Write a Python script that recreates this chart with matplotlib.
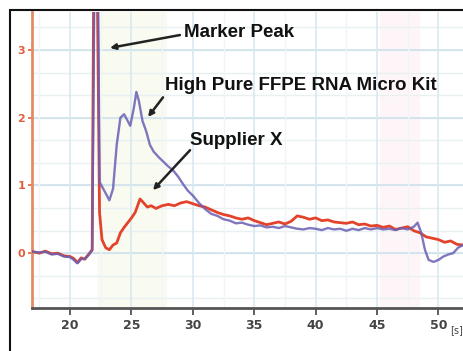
import matplotlib.pyplot as plt
from matplotlib.patches import Rectangle

# Electropherogram traces (x in seconds, y in FU)
x_blue = [17.0, 17.5, 18.0, 18.5, 19.0, 19.5, 20.0, 20.3, 20.6, 20.9, 21.2, 21.5, 21.8,
          21.98, 22.28, 22.4, 22.7, 23.0, 23.2, 23.5, 23.8, 24.1, 24.4, 24.7, 24.9, 25.2,
          25.4, 25.6, 25.9, 26.2, 26.5, 26.8, 27.2, 27.6, 28.0, 28.4, 28.8, 29.2, 29.6,
          30.0, 30.5, 31.0, 31.5, 32.0, 32.5, 33.0, 33.5, 34.0, 34.5, 35.0, 35.5, 36.0,
          36.5, 37.0, 37.5, 38.0, 38.5, 39.0, 39.5, 40.0, 40.5, 41.0, 41.5, 42.0, 42.5,
          43.0, 43.5, 44.0, 44.5, 45.0, 45.5, 46.0, 46.5, 47.0, 47.5, 48.0, 48.3, 48.6,
          48.9, 49.2, 49.6, 50.0, 50.4, 50.8, 51.2, 51.6, 52.0]
y_blue = [0.02, 0.01, 0.02, -0.02, -0.01, -0.05, -0.06, -0.10, -0.15, -0.09, -0.08, -0.03, 0.04,
          3.9, 3.9, 1.05, 0.95, 0.85, 0.78, 0.95, 1.60, 2.00, 2.05, 1.95, 1.88, 2.15,
          2.38, 2.25, 1.95, 1.80, 1.60, 1.50, 1.42, 1.35, 1.28, 1.22, 1.13, 1.02, 0.92,
          0.85, 0.74, 0.65, 0.58, 0.55, 0.50, 0.48, 0.44, 0.45, 0.42, 0.40, 0.41, 0.38,
          0.39, 0.37, 0.40, 0.38, 0.36, 0.35, 0.37, 0.36, 0.34, 0.37, 0.35, 0.36, 0.33,
          0.36, 0.34, 0.37, 0.35, 0.37, 0.35, 0.36, 0.34, 0.37, 0.35, 0.39, 0.45, 0.30,
          0.05, -0.10, -0.13, -0.10, -0.05, -0.02, 0.00, 0.08, 0.12]

x_red = [17.0, 17.5, 18.0, 18.5, 19.0, 19.5, 20.0, 20.3, 20.6, 20.9, 21.2, 21.5, 21.8,
         21.92, 22.22, 22.4, 22.6, 22.9, 23.2, 23.5, 23.8, 24.1, 24.4, 24.7, 25.0, 25.3,
         25.7, 26.0, 26.3, 26.6, 27.0, 27.5, 28.0, 28.5, 29.0, 29.5, 30.0, 30.5, 31.0,
         31.5, 32.0, 32.5, 33.0, 33.5, 34.0, 34.5, 35.0, 35.5, 36.0, 36.5, 37.0, 37.5,
         38.0, 38.5, 39.0, 39.5, 40.0, 40.5, 41.0, 41.5, 42.0, 42.5, 43.0, 43.5, 44.0,
         44.5, 45.0, 45.5, 46.0, 46.5, 47.0, 47.5, 48.0, 48.5, 49.0, 49.5, 50.0, 50.5,
         51.0, 51.5, 52.0]
y_red = [0.02, 0.00, 0.03, -0.01, 0.00, -0.04, -0.05, -0.08, -0.14, -0.07, -0.09, -0.02, 0.05,
         3.9, 3.9, 0.60, 0.20, 0.08, 0.05, 0.12, 0.15, 0.30, 0.38, 0.45, 0.52, 0.60,
         0.80, 0.74, 0.68, 0.70, 0.66, 0.70, 0.72, 0.70, 0.74, 0.76, 0.73, 0.70, 0.68,
         0.64, 0.60, 0.57, 0.55, 0.52, 0.50, 0.52, 0.48, 0.45, 0.42, 0.44, 0.46, 0.43,
         0.47, 0.55, 0.53, 0.50, 0.52, 0.48, 0.49, 0.46, 0.45, 0.44, 0.46, 0.42, 0.43,
         0.40, 0.41, 0.38, 0.40, 0.35, 0.37, 0.39, 0.33, 0.30, 0.24, 0.22, 0.20, 0.16,
         0.18, 0.13, 0.12]

x_ticks = [20, 25, 30, 35, 40, 45, 50]
y_ticks = [0, 1, 2, 3]

fig = plt.figure(figsize=(4.63, 3.51), dpi=100)
ax = fig.add_axes([32/463, 1 - 308/351, 1 - 32/463, (308 - 12)/351])

# faint shaded regions and grid like the instrument software
ax.axvspan(22.3, 27.8, color="#f9fbf1", zorder=0)
ax.axvspan(45.2, 48.4, color="#fdf5f7", zorder=0)
for v in [i / 3 for i in range(-2, 11)]:
    ax.axhline(v, color="#e9f0f3", lw=1.0, zorder=1)
for v in y_ticks:
    ax.axhline(v, color="#cfe2ec", lw=1.2, zorder=1)
for v in [17.5, 22.5, 27.5, 32.5, 37.5, 42.5, 47.5]:
    ax.axvline(v, color="#eff5f8", lw=1.0, zorder=1)
for v in x_ticks:
    ax.axvline(v, color="#d8e9f1", lw=1.2, zorder=1)

ax.plot(x_red, y_red, color="#e2432a", lw=2.0, zorder=3)
ax.plot(x_blue, y_blue, color="#6a5fb3", lw=1.7, alpha=0.85, zorder=4)

ax.set_xlim(16.9, 52.0)
ax.set_ylim(-0.81, 3.56)

ax.set_xticks(x_ticks)
ax.set_yticks(y_ticks)
ax.set_xticklabels([str(t) for t in x_ticks], fontsize=9, color="#444444", fontweight="bold")
ax.set_yticklabels([str(t) for t in y_ticks], fontsize=8, color="#e0603c", fontweight="bold")
ax.tick_params(axis="x", direction="out", length=5, width=1.2, color="#444444", pad=3)
ax.tick_params(axis="y", direction="out", length=3, width=1.2, color="#e0603c", pad=2)

for s in ["top", "right"]:
    ax.spines[s].set_visible(False)
ax.spines["left"].set_color("#e58a66")
ax.spines["left"].set_linewidth(2)
ax.spines["bottom"].set_color("#555555")
ax.spines["bottom"].set_linewidth(2)

# annotations: labels and arrows
fam = ["Liberation Sans", "DejaVu Sans"]
labels = ["Marker Peak", "High Pure FFPE RNA Micro Kit", "Supplier X"]
label_xy = [(33.8, 3.25), (38.8, 2.48), (33.5, 1.67)]
arrow_tail = [(28.95, 3.22), (27.57, 2.30), (29.77, 1.52)]
arrow_head = [(23.25, 3.03), (26.35, 2.01), (26.75, 0.93)]

for lab, (tx, ty), tail, head in zip(labels, label_xy, arrow_tail, arrow_head):
    ax.text(tx, ty, lab, fontsize=13.5, fontweight="bold", family=fam,
            ha="center", va="center", color="#111111", zorder=6)
    ax.annotate("", xy=head, xytext=tail, zorder=6,
                arrowprops=dict(arrowstyle="-|>", color="#222222", lw=1.8,
                                mutation_scale=8, shrinkA=0, shrinkB=0))

fig.text(450/463, 1 - 330/351, "[s]", fontsize=7, color="#444444", va="center", ha="left")

# outer frame of the figure panel
fig.patches.append(Rectangle((10/463, -0.1), 1.2, 1 - 10/351 + 0.1, transform=fig.transFigure,
                             fill=False, edgecolor="#111111", lw=1.5))

fig.savefig("out.png", dpi=100)
